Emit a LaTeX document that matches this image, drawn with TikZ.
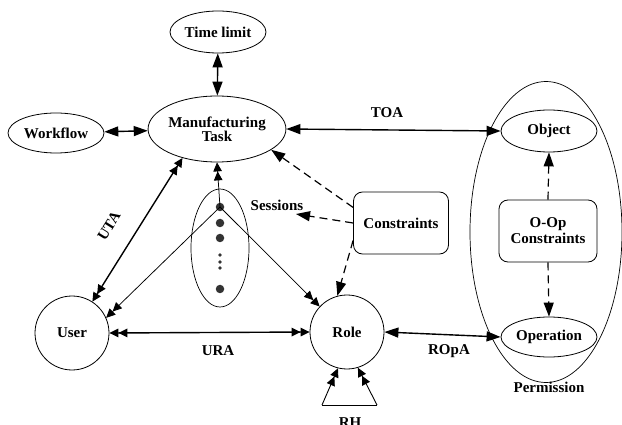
\documentclass[tikz,border=0pt]{standalone}
\usepackage{fontspec}
\setmainfont{Liberation Serif}
\usetikzlibrary{arrows.meta,shapes.geometric}
\begin{document}
\begin{tikzpicture}[x=1pt,y=-1pt,
  font=\fontsize{15}{16}\selectfont\bfseries,
  ell/.style={draw,ellipse,inner sep=0pt,line width=0.8pt},
  rnd/.style={draw,rectangle,rounded corners=9pt,inner sep=0pt,line width=0.8pt,align=center},
  circ/.style={draw,circle,inner sep=0pt,minimum size=74pt,line width=0.8pt},
  lbl/.style={inner sep=1pt},
  thickln/.style={line width=1.4pt},
  thinln/.style={line width=0.75pt},
  dashln/.style={line width=1.2pt,dash pattern=on 8pt off 5pt},
  one/.style={{Triangle[length=14pt 0,width=10pt 0]}-{Triangle[length=14pt 0,width=10pt 0]}},
  onehead/.style={-{Triangle[length=14pt 0,width=10pt 0]}},
  dbl/.style={-{Triangle[length=9pt 0,width=8.5pt 0]Triangle[length=9pt 0,width=8.5pt 0]}},
  dbldbl/.style={{Triangle[length=9pt 0,width=8.5pt 0]Triangle[length=9pt 0,width=8.5pt 0]}-{Triangle[length=9pt 0,width=8.5pt 0]Triangle[length=9pt 0,width=8.5pt 0]}},
  dotc/.style={fill=black!80}
]
\useasboundingbox (0,0) rectangle (622,425);

% task side
\node[ell,minimum width=96pt,minimum height=42pt] (tl) at (218,32) {Time limit};
\node[ell,minimum width=132pt,minimum height=66pt,align=center] (mt) at (217,129) {Manufacturing\\[-2pt]Task};
\node[ell,minimum width=96pt,minimum height=40pt] (wf) at (56,133) {Workflow};

% permission side
\node[ell,minimum width=152pt,minimum height=301pt,line width=0.7pt] (perm) at (546,232) {};
\node[ell,minimum width=96pt,minimum height=42pt] (obj) at (549,131) {Object};
\node[ell,minimum width=96pt,minimum height=40pt] (op) at (549,337) {Operation};
\node[rnd,minimum width=98pt,minimum height=62pt] (oop) at (548,231) {O-Op\\Constraints};
\node[lbl] (permlbl) at (549,387) {Permission};

% user, role, constraints
\node[circ] (user) at (72,333) {User};
\node[circ] (role) at (347,332) {Role};
\node[rnd,minimum width=95pt,minimum height=62pt] (cons) at (401,223) {Constraints};

% sessions
\node[ell,minimum width=58pt,minimum height=118pt,line width=0.7pt] (sess) at (220,248) {};
\node[circle,dotc,inner sep=0pt,minimum size=8.5pt] (d1) at (220,207) {};
\node[circle,dotc,inner sep=0pt,minimum size=8.5pt] (d2) at (220,223) {};
\node[circle,dotc,inner sep=0pt,minimum size=8.5pt] (d3) at (220,238) {};
\node[circle,dotc,inner sep=0pt,minimum size=3.6pt] (e1) at (220,255) {};
\node[circle,dotc,inner sep=0pt,minimum size=3.6pt] (e2) at (220,262) {};
\node[circle,dotc,inner sep=0pt,minimum size=3.6pt] (e3) at (220,268) {};
\node[circle,dotc,inner sep=0pt,minimum size=8.5pt] (d4) at (220,289) {};
\node[lbl] (sesslbl) at (277,205) {Sessions};
\coordinate (sesstip) at (296,214);

% labels on connectors
\node[lbl,rotate=58] (uta) at (109,226) {UTA};
\node[lbl] (toa) at (387,113) {TOA};
\node[lbl] (ura) at (218,351) {URA};
\node[lbl] (ropa) at (449,351) {ROpA};

% solid connectors
\draw[thickln,one] (tl) -- (mt);
\draw[thickln,one] (wf) -- (mt);
\draw[thickln,one] (mt.east) -- (obj.west);
\draw[thickln,one] (role.east) -- (op.west);
\draw[thickln,dbldbl] (user.east) -- (role.west);
\draw[thickln,dbldbl] (user.57) -- (mt.220);

% session links
\draw[thinln,dbl] (d1.center) -- (mt.south);
\draw[thinln,dbl] (d1.center) -- (user.24);
\draw[thinln,dbl] (d1.center) -- (role.137);

% role hierarchy
\coordinate (rhl) at (322,405);
\coordinate (rhr) at (377,405);
\draw[line width=0.9pt] (rhl) -- (rhr);
\draw[line width=0.9pt,dbl] (rhl) -- (role.256);
\draw[line width=0.9pt,dbl] (rhr) -- (role.287);
\node[lbl] (rh) at (350,423) {RH};

% constraint links
\draw[dashln,onehead] (cons.162) -- (mt.339);
\draw[dashln,onehead] (cons.west) -- (sesstip);
\draw[dashln,onehead] (cons.200) -- (role.105);
\draw[dashln,onehead] (oop.north) -- (obj.south);
\draw[dashln,onehead] (oop.south) -- (op.north);
\end{tikzpicture}
\end{document}
